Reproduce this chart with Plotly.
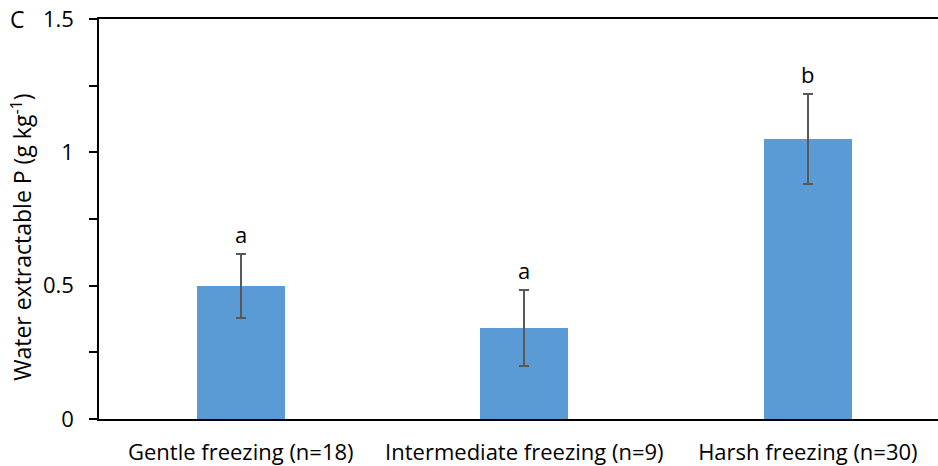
import plotly.graph_objects as go

categories = ["Gentle freezing (n=18)", "Intermediate freezing (n=9)", "Harsh freezing (n=30)"]
means = [0.50, 0.34, 1.05]
errors = [0.12, 0.143, 0.167]
letters = ["a", "a", "b"]
ytick_vals = [0, 0.5, 1.0, 1.5]
ytick_text = ["0", "0.5", "1", "1.5"]
yminor_step = 0.25

FONT = "Open Sans"
xpos = list(range(len(categories)))

fig = go.Figure()
fig.add_trace(go.Bar(
    x=xpos, y=means, width=0.31,
    marker=dict(color="#5B9BD5", line=dict(width=0)),
    error_y=dict(type="data", array=errors, visible=True,
                 color="#595959", thickness=2, width=5),
    showlegend=False,
))

for xi, m, e, lab in zip(xpos, means, errors, letters):
    fig.add_annotation(x=xi, y=m + e, text=lab, showarrow=False,
                       yanchor="bottom", yshift=3,
                       font=dict(family=FONT, size=22, color="black"))

fig.add_annotation(xref="paper", yref="paper", x=-0.097, y=1.0,
                   text="C", showarrow=False, xanchor="center", yanchor="middle",
                   font=dict(family=FONT, size=23, color="black"))

fig.add_annotation(xref="paper", yref="paper", x=-0.092, y=0.455,
                   text="Water extractable P (g kg<sup>-1</sup>)", textangle=-90,
                   showarrow=False, xanchor="center", yanchor="middle",
                   font=dict(family=FONT, size=23, color="black"))

fig.update_layout(
    width=938, height=466,
    margin=dict(l=99, r=0, t=19, b=47),
    paper_bgcolor="white", plot_bgcolor="white",
    font=dict(family=FONT, color="black"),
    bargap=0,
)
fig.update_xaxes(
    range=[-0.5, 2.459], tickvals=xpos, ticktext=categories,
    showline=True, linecolor="black", linewidth=1.5, mirror=True,
    ticks="", showgrid=False, zeroline=False,
    ticklabelstandoff=13,
    tickfont=dict(family=FONT, size=22, color="black"),
)
fig.update_yaxes(
    range=[0, 1.5], tickvals=ytick_vals, ticktext=ytick_text,
    showline=True, linecolor="black", linewidth=1.5,
    ticks="outside", ticklen=8, tickwidth=1.5, tickcolor="black",
    minor=dict(dtick=yminor_step, ticks="outside", ticklen=8, tickwidth=1.5,
               tickcolor="black", showgrid=False),
    ticklabelstandoff=11,
    showgrid=False, zeroline=False,
    tickfont=dict(family=FONT, size=22, color="black"),
)

fig.write_html("out.html")
